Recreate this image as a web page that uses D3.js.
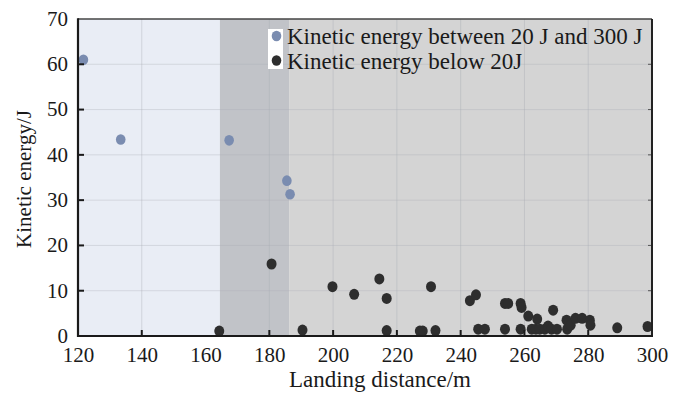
<!DOCTYPE html>
<html>
<head>
<meta charset="utf-8">
<script src="https://cdn.jsdelivr.net/npm/d3@7/dist/d3.min.js"></script>
<style>
  html, body { margin: 0; padding: 0; background: #fff; }
  svg { display: block; }
  svg text { fill: #1a1a1a; }
</style>
</head>
<body>
<svg id="chart" width="686" height="394"></svg>
<script>
// ---- data ----
const blueDistance = [121.7, 133.4, 167.4, 185.5, 186.5];
const blueEnergy   = [61.0, 43.4, 43.2, 34.3, 31.3];

const blackDistance = [164.3, 180.7, 190.4, 199.8, 206.6, 214.5, 216.8, 216.8, 227.2, 228.1,
  230.7, 232.1, 242.9, 244.8, 245.5, 247.6, 253.9, 254.9, 253.9, 258.8,
  259.1, 258.8, 261.2, 262.3, 264.0, 263.6, 264.8, 266.4, 267.4, 268.5,
  269.0, 270.2, 273.2, 273.4, 274.5, 276.0, 278.1, 280.5, 280.7, 289.1, 298.6];
const blackEnergy = [1.1, 15.9, 1.3, 10.9, 9.2, 12.6, 8.3, 1.2, 1.1, 1.1,
  10.9, 1.2, 7.8, 9.1, 1.5, 1.5, 7.2, 7.2, 1.5, 7.2,
  6.3, 1.5, 4.4, 1.5, 3.75, 1.5, 1.5, 1.5, 2.2, 1.5,
  5.7, 1.5, 3.5, 1.5, 2.4, 3.9, 3.9, 3.5, 2.4, 1.8, 2.1];

const zoneBounds = [120, 164.5, 186.2, 300];
const xTicks = [120, 140, 160, 180, 200, 220, 240, 260, 280, 300];
const yTicks = [0, 10, 20, 30, 40, 50, 60, 70];
const xGridTicks = [140, 180, 200, 220, 240, 260, 280];
const legendLabels = ["Kinetic energy between 20 J and 300 J", "Kinetic energy below 20J"];
const xTitle = "Landing distance/m";
const yTitle = "Kinetic energy/J";

// ---- layout ----
const FONT = '"Liberation Serif", Tinos, "Times New Roman", Times, "DejaVu Serif", serif';
const svg = d3.select("#chart");
const L = 78, R = 652, T = 19, B = 336;
const x = d3.scaleLinear().domain([120, 300]).range([L, R]);
const y = d3.scaleLinear().domain([0, 70]).range([B, T]);

const zoneColors = ["#e9edf5", "#c1c3c8", "#d4d4d4"];
const zones = zoneBounds.slice(0, -1).map((d, i) => ({ x0: d, x1: zoneBounds[i + 1], c: zoneColors[i] }));
svg.append("g").selectAll("rect").data(zones).join("rect")
  .attr("x", d => x(d.x0)).attr("y", T)
  .attr("width", d => x(d.x1) - x(d.x0)).attr("height", B - T)
  .attr("fill", d => d.c);

// gridlines
const grid = svg.append("g");
grid.selectAll("line.h").data(yTicks.filter(d => d > 0 && d < 70)).join("line")
  .attr("x1", L).attr("x2", R).attr("y1", d => y(d)).attr("y2", d => y(d))
  .attr("stroke", "#a8acb4").attr("stroke-opacity", 0.35).attr("stroke-width", 1);
grid.selectAll("line.v").data(xGridTicks).join("line")
  .attr("x1", d => x(d)).attr("x2", d => x(d)).attr("y1", T).attr("y2", B)
  .attr("stroke", "#a8acb4").attr("stroke-opacity", 0.4).attr("stroke-width", 1);

// points
const blue = blueDistance.map((d, i) => [d, blueEnergy[i]]);
const black = blackDistance.map((d, i) => [d, blackEnergy[i]]);
svg.append("g").selectAll("ellipse").data(blue).join("ellipse")
  .attr("cx", d => x(d[0])).attr("cy", d => y(d[1]))
  .attr("rx", 4.8).attr("ry", 5.3).attr("fill", "#7a8cb0");
svg.append("g").selectAll("ellipse").data(black).join("ellipse")
  .attr("cx", d => x(d[0])).attr("cy", d => y(d[1]))
  .attr("rx", 5).attr("ry", 5.5).attr("fill", "#2e2e2e");

// axes
const xAxis = d3.axisBottom(x).tickValues(xTicks).tickSize(0).tickPadding(11).tickFormat(d3.format("d"));
const gx = svg.append("g").attr("transform", `translate(0,${B})`).call(xAxis)
  .attr("font-family", FONT);
gx.select(".domain").remove();
gx.selectAll("text").attr("font-size", 21).attr("fill", "#1a1a1a").attr("dy", "0.72em");

const yAxis = d3.axisLeft(y).tickValues(yTicks).tickSize(0).tickPadding(10);
const gy = svg.append("g").attr("transform", `translate(${L},0)`).call(yAxis)
  .attr("font-family", FONT);
gy.select(".domain").remove();
gy.selectAll("text").attr("font-size", 21).attr("fill", "#1a1a1a").attr("dy", "0.3em");

// inward ticks
svg.append("g").selectAll("line").data(xGridTicks).join("line")
  .attr("x1", d => x(d)).attr("x2", d => x(d)).attr("y1", B).attr("y2", B - 6)
  .attr("stroke", "#1a1a1a").attr("stroke-width", 2);
svg.append("g").selectAll("line").data(yTicks.filter(d => d > 0 && d < 70)).join("line")
  .attr("x1", L).attr("x2", L + 6).attr("y1", d => y(d)).attr("y2", d => y(d))
  .attr("stroke", "#1a1a1a").attr("stroke-width", 2);
svg.append("g").selectAll("line").data(yTicks.filter(d => d > 0 && d < 70)).join("line")
  .attr("x1", R).attr("x2", R - 4).attr("y1", d => y(d)).attr("y2", d => y(d))
  .attr("stroke", "#555").attr("stroke-width", 1);

// frame
svg.append("line").attr("x1", L).attr("x2", R).attr("y1", T).attr("y2", T).attr("stroke", "#444").attr("stroke-width", 1.5);
svg.append("line").attr("x1", R).attr("x2", R).attr("y1", T).attr("y2", B).attr("stroke", "#222").attr("stroke-width", 2);
svg.append("line").attr("x1", L).attr("x2", L).attr("y1", T - 0.75).attr("y2", B + 1).attr("stroke", "#1a1a1a").attr("stroke-width", 2.2);
svg.append("line").attr("x1", L - 1).attr("x2", R + 1).attr("y1", B).attr("y2", B).attr("stroke", "#1a1a1a").attr("stroke-width", 2.2);

// axis titles
svg.append("text").attr("x", 380).attr("y", 387).attr("text-anchor", "middle")
  .attr("font-family", FONT).attr("font-size", 23).text(xTitle);
svg.append("text").attr("transform", `translate(31,179) rotate(-90)`)
  .attr("text-anchor", "middle").attr("font-family", FONT).attr("font-size", 21).text(yTitle);

// legend
const lg = svg.append("g").attr("font-family", FONT);
lg.append("rect").attr("x", 268).attr("y", 29).attr("width", 15).attr("height", 40).attr("fill", "#fff");
const legendColors = ["#7a8cb0", "#2e2e2e"];
legendLabels.forEach((lab, i) => {
  const cy = 36 + i * 24.5;
  lg.append("ellipse").attr("cx", 276.5).attr("cy", cy).attr("rx", 4.8).attr("ry", 5.2).attr("fill", legendColors[i]);
  lg.append("text").attr("x", 287).attr("y", cy + 8).attr("font-size", 23).text(lab);
});
</script>
</body>
</html>
